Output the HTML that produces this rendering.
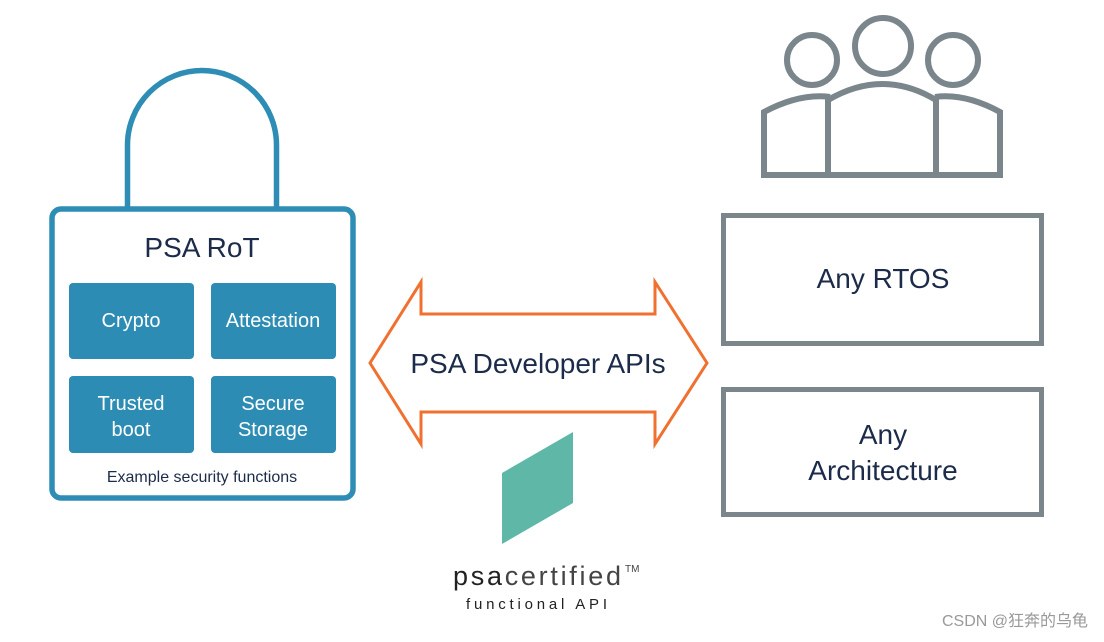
<!DOCTYPE html>
<html><head><meta charset="utf-8"><style>
body{margin:0;background:#fff;}
svg text{font-family:"Liberation Sans","Noto Sans CJK SC",sans-serif;}
</style></head><body>
<svg width="1104" height="637" viewBox="0 0 1104 637" xmlns="http://www.w3.org/2000/svg">
<rect width="1104" height="637" fill="#fff"/>
<path d="M127.5 208 V145 A74.5 74.5 0 0 1 276.5 145 V208" fill="none" stroke="#2e8db5" stroke-width="5.5"/>
<rect x="52" y="209" width="301" height="289" rx="9" fill="#fff" stroke="#2e8db5" stroke-width="5.5"/>
<text x="202" y="257" font-size="28" text-anchor="middle" fill="#1c2b4a">PSA RoT</text>
<g fill="#2d8cb3">
<rect x="69" y="283" width="125" height="76" rx="4"/>
<rect x="211" y="283" width="125" height="76" rx="4"/>
<rect x="69" y="376" width="125" height="77" rx="4"/>
<rect x="211" y="376" width="125" height="77" rx="4"/>
</g>
<g fill="#fff" font-size="20" text-anchor="middle">
<text x="131" y="327">Crypto</text>
<text x="273" y="327">Attestation</text>
<text x="131" y="410">Trusted</text>
<text x="131" y="436">boot</text>
<text x="273" y="410">Secure</text>
<text x="273" y="436">Storage</text>
</g>
<text x="202" y="482" font-size="16" text-anchor="middle" fill="#1c2b4a">Example security functions</text>
<path d="M370 363 L421 282 V314 H655 V282 L707 363 L655 444 V412 H421 V444 Z" fill="#fff" stroke="#f07030" stroke-width="3"/>
<text x="538" y="373" font-size="28" text-anchor="middle" fill="#1c2b4a">PSA Developer APIs</text>
<polygon points="502,473 573,432 573,503 502,544" fill="#5eb7a7"/>
<text x="453" y="585" font-size="27" fill="#222" textLength="168" lengthAdjust="spacing">psa<tspan fill="#444">certified</tspan></text>
<text x="625" y="572" font-size="10" fill="#444">TM</text>
<text x="466" y="609" font-size="15" fill="#222" textLength="141" lengthAdjust="spacing">functional API</text>
<g fill="none" stroke="#7b868c" stroke-width="6">
<circle cx="812" cy="60" r="25"/>
<circle cx="883" cy="46" r="28"/>
<circle cx="953" cy="60" r="25"/>
<path d="M764 176 V112 Q800 93 830 97"/>
<path d="M1000 176 V112 Q965 93 935 97"/>
<path d="M828 176 V100 Q883 68 936 100 V176"/>
<path d="M761 175 H1003"/>
</g>
<rect x="723.5" y="215.5" width="318" height="128" fill="#fff" stroke="#7b868c" stroke-width="5"/>
<text x="883" y="288" font-size="28" text-anchor="middle" fill="#1c2b4a">Any RTOS</text>
<rect x="723.5" y="389.5" width="318" height="125" fill="#fff" stroke="#7b868c" stroke-width="5"/>
<text x="883" y="444" font-size="28" text-anchor="middle" fill="#1c2b4a">Any</text>
<text x="883" y="480" font-size="28" text-anchor="middle" fill="#1c2b4a">Architecture</text>
<text x="1088" y="626" font-size="16" text-anchor="end" fill="#999">CSDN @狂奔的乌龟</text>
</svg>
</body></html>
